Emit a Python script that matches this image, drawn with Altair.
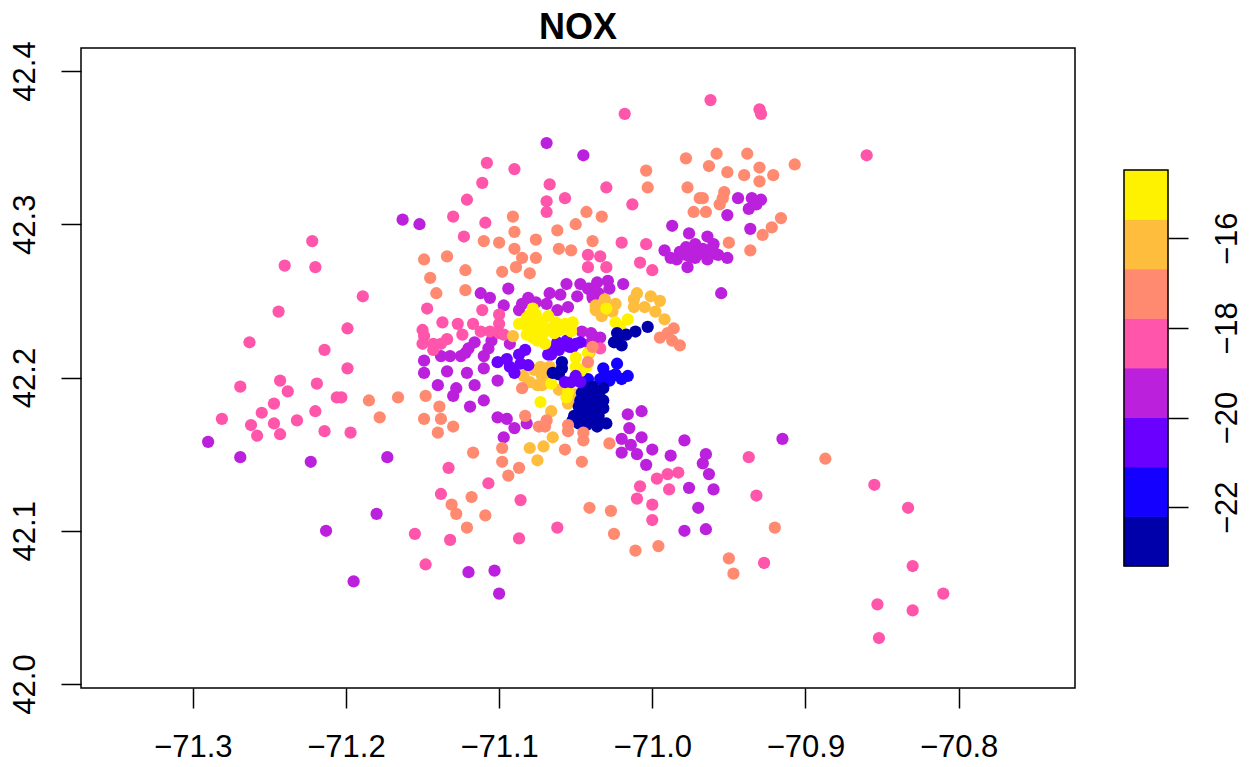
import altair as alt
import pandas as pd

band_colors = ["#0000AA", "#1400FF", "#6A00FF", "#BB21DD", "#FF55AA", "#FF8A70", "#FFBD3E", "#FFF200"]
band_edges = [-23.31, -22.206, -21.102, -19.998, -18.894, -17.79, -16.686, -15.582, -14.478]

magenta = [(-71.069,42.353),(-71.045,42.345),(-71.163,42.303),(-71.152,42.300),(-70.987,42.299),(-70.976,42.294),(-70.964,42.292),(-70.992,42.283),(-70.972,42.287),(-70.978,42.285),(-70.982,42.282),(-70.978,42.280),(-70.988,42.278),(-70.984,42.277),(-70.977,42.272),(-70.972,42.278),(-70.964,42.277),(-70.960,42.287),(-70.967,42.284),(-70.975,42.282),(-70.963,42.283),(-70.959,42.281),(-70.955,42.255),(-70.944,42.317),(-70.935,42.317),(-70.929,42.316),(-70.932,42.313),(-70.937,42.310),(-70.951,42.306),(-70.936,42.297),(-70.951,42.278),(-70.957,42.280),(-70.969,42.281),(-70.975,42.279),(-71.029,42.263),(-71.019,42.261),(-71.036,42.262),(-71.028,42.258),(-71.041,42.258),(-71.039,42.254),(-71.035,42.255),(-71.039,42.252),(-71.046,42.230),(-71.040,42.229),(-71.034,42.226),(-71.037,42.226),(-71.039,42.227),(-71.041,42.222),(-71.094,42.258),(-71.056,42.261),(-71.047,42.261),(-71.042,42.258),(-71.067,42.255),(-71.060,42.254),(-71.049,42.253),(-71.081,42.252),(-71.076,42.249),(-71.085,42.248),(-71.069,42.248),(-71.055,42.246),(-71.087,42.244),(-71.062,42.244),(-71.106,42.252),(-71.097,42.247),(-71.112,42.255),(-71.093,42.222),(-71.105,42.224),(-71.107,42.219),(-71.110,42.214),(-71.110,42.206),(-71.101,42.198),(-71.110,42.185),(-71.016,42.176),(-71.007,42.178),(-71.015,42.167),(-71.007,42.161),(-71.020,42.160),(-70.979,42.159),(-71.101,42.174),(-71.095,42.173),(-71.090,42.167),(-71.082,42.170),(-71.097,42.161),(-71.116,42.223),(-71.120,42.219),(-71.122,42.216),(-71.125,42.214),(-71.132,42.214),(-71.138,42.214),(-71.149,42.211),(-71.149,42.203),(-71.134,42.204),(-71.121,42.203),(-71.140,42.195),(-71.116,42.195),(-71.128,42.193),(-71.130,42.188),(-71.119,42.181),(-71.290,42.158),(-71.269,42.148),(-71.223,42.145),(-71.173,42.148),(-71.180,42.111),(-71.213,42.100),(-71.195,42.067),(-71.120,42.073),(-71.103,42.074),(-71.100,42.059),(-71.014,42.156),(-71.020,42.151),(-71.000,42.153),(-71.010,42.150),(-71.004,42.143),(-70.988,42.149),(-70.965,42.150),(-70.967,42.144),(-70.963,42.137),(-70.976,42.128),(-70.960,42.127),(-70.970,42.115),(-70.979,42.100),(-70.965,42.101),(-70.915,42.160)]

pink = [(-71.222,42.289),(-71.240,42.273),(-71.220,42.272),(-71.189,42.253),(-71.244,42.243),(-71.199,42.232),(-71.263,42.223),(-71.214,42.218),(-71.199,42.206),(-71.243,42.198),(-71.269,42.194),(-71.219,42.196),(-71.238,42.191),(-71.206,42.187),(-71.203,42.187),(-71.247,42.183),(-71.255,42.177),(-71.220,42.178),(-71.281,42.173),(-71.262,42.169),(-71.247,42.170),(-71.232,42.172),(-71.258,42.162),(-71.243,42.163),(-71.214,42.165),(-71.197,42.164),(-71.123,42.292),(-71.147,42.245),(-71.111,42.244),(-71.137,42.236),(-71.127,42.235),(-71.117,42.235),(-71.112,42.230),(-71.150,42.231),(-71.124,42.228),(-71.149,42.227),(-71.134,42.225),(-71.150,42.222),(-71.143,42.222),(-71.138,42.222),(-71.143,42.218),(-71.100,42.241),(-71.100,42.235),(-71.106,42.230),(-71.100,42.229),(-71.097,42.228),(-71.108,42.340),(-71.090,42.336),(-71.111,42.327),(-71.067,42.326),(-71.121,42.316),(-71.069,42.315),(-71.057,42.317),(-71.030,42.324),(-71.013,42.313),(-71.069,42.308),(-71.130,42.305),(-71.109,42.301),(-71.020,42.288),(-71.004,42.287),(-71.042,42.280),(-71.034,42.279),(-71.042,42.272),(-71.030,42.272),(-71.008,42.275),(-71.000,42.270),(-71.034,42.219),(-71.133,42.141),(-71.107,42.131),(-71.138,42.124),(-71.086,42.120),(-71.062,42.102),(-71.155,42.098),(-71.132,42.094),(-71.087,42.095),(-71.148,42.078),(-70.997,42.134),(-70.990,42.137),(-70.983,42.138),(-71.008,42.129),(-70.989,42.127),(-71.010,42.121),(-71.000,42.117),(-71.000,42.107),(-70.937,42.148),(-70.932,42.123),(-70.855,42.130),(-70.833,42.115),(-70.927,42.079),(-70.830,42.077),(-70.810,42.059),(-70.853,42.052),(-70.830,42.048),(-70.852,42.030),(-70.962,42.381),(-70.930,42.375),(-70.929,42.372),(-70.860,42.345),(-71.018,42.372)]

orange = [(-71.065,42.161),(-71.080,42.154),(-71.071,42.155),(-71.075,42.146),(-71.066,42.178),(-71.084,42.201),(-71.077,42.205),(-71.073,42.207),(-71.067,42.207),(-71.080,42.197),(-71.072,42.201),(-71.075,42.195),(-71.068,42.202),(-71.072,42.195),(-71.061,42.192),(-71.052,42.187),(-71.055,42.183),(-71.050,42.189),(-71.091,42.227),(-71.037,42.247),(-71.031,42.251),(-71.024,42.248),(-71.037,42.244),(-71.033,42.240),(-71.026,42.243),(-71.010,42.255),(-71.001,42.253),(-70.995,42.250),(-71.012,42.251),(-71.012,42.246),(-71.005,42.246),(-70.998,42.243),(-70.992,42.238),(-71.041,42.216)]

blue = [(-71.032,42.206),(-71.023,42.209),(-71.016,42.201),(-71.020,42.199),(-71.026,42.201),(-71.034,42.199),(-71.031,42.202),(-71.028,42.198),(-71.024,42.202),(-71.042,42.199)]

violet = [(-71.066,42.215),(-71.062,42.223),(-71.056,42.224),(-71.050,42.222),(-71.047,42.223),(-71.054,42.220),(-71.061,42.218),(-71.064,42.219),(-71.068,42.215),(-71.059,42.221),(-71.052,42.220),(-71.083,42.218),(-71.101,42.210),(-71.095,42.212),(-71.087,42.215),(-71.093,42.207),(-71.090,42.203),(-71.086,42.209),(-71.081,42.208)]

yellow = [(-71.078,42.245),(-71.087,42.235),(-71.082,42.239),(-71.076,42.241),(-71.068,42.240),(-71.063,42.236),(-71.057,42.235),(-71.052,42.236),(-71.081,42.231),(-71.074,42.233),(-71.066,42.232),(-71.060,42.231),(-71.053,42.230),(-71.078,42.226),(-71.071,42.229),(-71.082,42.228),(-71.076,42.228),(-71.064,42.229),(-71.070,42.222),(-71.077,42.235),(-71.080,42.234),(-71.072,42.236),(-71.080,42.241),(-71.075,42.224),(-71.030,42.245),(-71.024,42.236),(-71.016,42.238),(-71.021,42.233),(-71.050,42.213),(-71.050,42.207),(-71.043,42.207),(-71.042,42.216),(-71.047,42.204),(-71.066,42.196),(-71.055,42.191),(-71.056,42.187),(-71.073,42.184)]

navy = [(-71.023,42.229),(-71.025,42.223),(-71.020,42.221),(-71.017,42.228),(-71.011,42.230),(-71.003,42.233),(-71.023,42.224),(-71.059,42.210),(-71.059,42.206),(-71.065,42.203),(-71.061,42.202),(-71.044,42.194),(-71.039,42.194),(-71.032,42.193),(-71.046,42.190),(-71.040,42.190),(-71.035,42.189),(-71.047,42.185),(-71.041,42.185),(-71.036,42.184),(-71.032,42.185),(-71.048,42.181),(-71.042,42.181),(-71.037,42.180),(-71.032,42.180),(-71.051,42.175),(-71.046,42.176),(-71.040,42.175),(-71.035,42.175),(-71.052,42.172),(-71.048,42.170),(-71.042,42.172),(-71.037,42.170),(-71.030,42.170),(-71.036,42.168),(-71.043,42.169),(-71.049,42.172),(-71.038,42.174)]

violet_late = [(-71.057,42.197),(-71.050,42.201),(-71.053,42.197),(-71.047,42.197)]

salmon = [(-70.978,42.343),(-71.004,42.335),(-71.003,42.324),(-70.977,42.324),(-70.969,42.317),(-70.973,42.308),(-71.043,42.308),(-71.033,42.305),(-71.050,42.300),(-71.091,42.305),(-71.090,42.295),(-71.062,42.296),(-71.039,42.289),(-71.110,42.289),(-71.100,42.288),(-71.076,42.290),(-71.090,42.284),(-71.061,42.284),(-71.053,42.283),(-71.149,42.277),(-71.134,42.279),(-71.085,42.278),(-71.076,42.278),(-71.089,42.272),(-71.122,42.270),(-71.098,42.269),(-71.080,42.268),(-71.145,42.265),(-71.141,42.255),(-71.122,42.257),(-71.185,42.185),(-71.166,42.187),(-71.148,42.188),(-71.139,42.181),(-71.178,42.174),(-71.149,42.173),(-71.138,42.173),(-71.130,42.168),(-71.140,42.164),(-71.117,42.151),(-71.118,42.122),(-71.131,42.117),(-71.128,42.111),(-71.109,42.110),(-71.121,42.102),(-71.098,42.154),(-71.098,42.145),(-71.087,42.141),(-71.094,42.136),(-71.057,42.153),(-71.046,42.145),(-71.028,42.157),(-71.045,42.164),(-71.045,42.159),(-71.055,42.169),(-71.055,42.165),(-71.074,42.168),(-71.070,42.168),(-71.069,42.172),(-71.041,42.115),(-71.027,42.113),(-71.025,42.098),(-71.011,42.087),(-70.996,42.090),(-70.887,42.147),(-70.920,42.102),(-70.950,42.082),(-70.947,42.072),(-70.958,42.346),(-70.938,42.346),(-70.963,42.338),(-70.951,42.334),(-70.940,42.332),(-70.930,42.337),(-70.921,42.332),(-70.907,42.339),(-70.930,42.328),(-70.953,42.321),(-70.954,42.317),(-70.967,42.317),(-70.956,42.313),(-70.965,42.308),(-70.916,42.304),(-70.922,42.298),(-70.928,42.293),(-70.950,42.288),(-70.936,42.283),(-70.986,42.232),(-70.995,42.226),(-70.990,42.229),(-70.987,42.224),(-70.982,42.221),(-71.039,42.220),(-71.042,42.210),(-71.085,42.193),(-71.083,42.175)]

draw_order = [(3, magenta), (4, pink), (6, orange), (1, blue), (2, violet), (7, yellow), (0, navy), (2, violet_late), (5, salmon)]

x_ticks = [-71.3, -71.2, -71.1, -71.0, -70.9, -70.8]
y_ticks = [42.0, 42.1, 42.2, 42.3, 42.4]
legend_ticks = [-22, -20, -18, -16]

rows = []
for band, pts in draw_order:
    for lon, lat in pts:
        rows.append({"lon": lon, "lat": lat, "band": band})
points = pd.DataFrame(rows)

font = "Liberation Sans"
axis_style = dict(grid=False, domain=False, title=None, labelFont=font, labelFontSize=31,
                  labelColor="black", tickColor="black", tickWidth=1.5, tickSize=20, labelOverlap=False)
minus_1f = "replace(format(datum.value, '.1f'), /[-\u2212]/, '\u2212')"
minus_d = "replace(format(datum.value, 'd'), /[-\u2212]/, '\u2212')"

main = alt.Chart(points, title=alt.TitleParams("NOX", font=font, fontSize=36, fontWeight="bold", color="black",
                                               anchor="middle", offset=-6)).mark_circle(size=150, opacity=1).encode(
    x=alt.X("lon:Q", scale=alt.Scale(domain=[-71.373, -70.724], nice=False, zero=False),
            axis=alt.Axis(values=x_ticks, labelExpr=minus_1f, labelPadding=24, **axis_style)),
    y=alt.Y("lat:Q", scale=alt.Scale(domain=[41.9974, 42.415], nice=False, zero=False),
            axis=alt.Axis(values=y_ticks, format=".1f", labelAngle=270, labelPadding=20, **axis_style)),
    color=alt.Color("band:N", scale=alt.Scale(domain=list(range(8)), range=band_colors), legend=None),
).properties(width=994, height=640, view=alt.ViewConfig(stroke="black", strokeWidth=1.5))

bands = pd.DataFrame({"low": band_edges[:-1], "high": band_edges[1:], "band": list(range(8))})
frame = pd.DataFrame({"low": [band_edges[0]], "high": [band_edges[-1]]})
legend_scale = alt.Scale(domain=[-26.03, -11.755], nice=False, zero=False)
band_scale = alt.Scale(domain=list(range(8)), range=band_colors)

strip = alt.Chart(bands).mark_rect(strokeWidth=0.7).encode(
    x=alt.value(0), x2=alt.value(44),
    y=alt.Y("low:Q", scale=legend_scale,
            axis=alt.Axis(orient="right", values=legend_ticks, labelExpr=minus_d, labelAngle=270, labelPadding=24, **axis_style)),
    y2="high:Q",
    color=alt.Color("band:N", scale=band_scale, legend=None),
    stroke=alt.Stroke("band:N", scale=band_scale, legend=None),
)
box = alt.Chart(frame).mark_rect(fill="transparent", stroke="black", strokeWidth=1.5).encode(
    x=alt.value(0), x2=alt.value(44),
    y=alt.Y("low:Q", scale=legend_scale), y2="high:Q",
)
key = alt.layer(strip, box).resolve_scale(color="independent").properties(
    width=44, height=640, view=alt.ViewConfig(stroke="transparent"))

chart = alt.hconcat(main, key, spacing=46, padding={"left": 0, "top": 1, "right": 0, "bottom": 0},
                    background="white").resolve_scale(color="independent", stroke="independent")

chart.save("out.html", embed_options={"renderer": "svg", "actions": False})
